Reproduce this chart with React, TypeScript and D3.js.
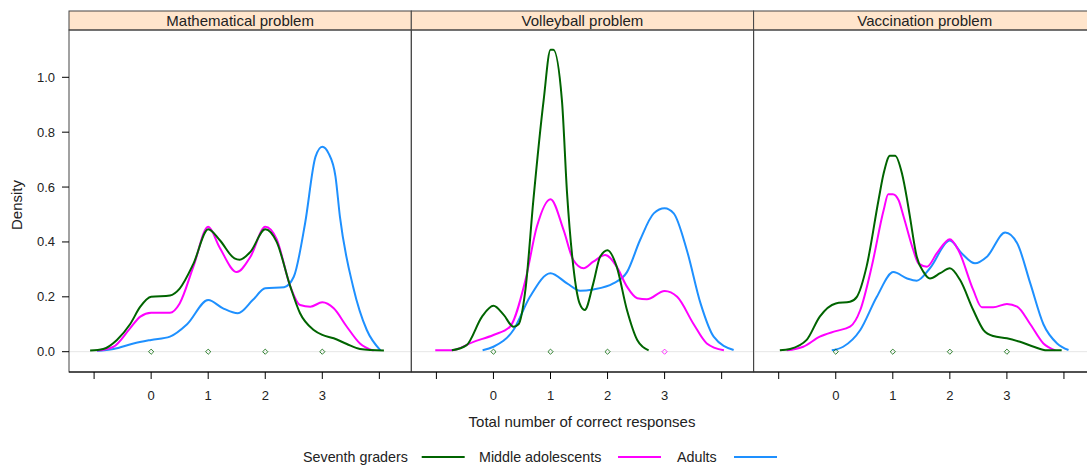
import React from "react";
import * as d3 from "d3";

// Density estimates of the total number of correct responses, per problem and age group.
const panels = ["Mathematical problem", "Volleyball problem", "Vaccination problem"];
const groups = ["Seventh graders", "Middle adolescents", "Adults"];
const groupColors = ["#006400", "#ff00ff", "#1e90ff"];

const xTicks = [-1, 0, 1, 2, 3, 4];
const xTickLabels = ["", "0", "1", "2", "3", ""];
const yTicks = [0, 0.2, 0.4, 0.6, 0.8, 1.0];

// Mathematical problem
const mathSeventh: [number, number][] = [
  [-1.07, 0.004], [-0.84, 0.01], [-0.6, 0.043], [-0.37, 0.1], [-0.19, 0.164], [0, 0.2],
  [0.33, 0.205], [0.5, 0.23], [0.74, 0.32], [1, 0.446], [1.2, 0.407], [1.46, 0.34],
  [1.55, 0.335], [1.74, 0.364], [2, 0.446], [2.2, 0.4], [2.44, 0.237], [2.61, 0.14],
  [2.85, 0.079], [3, 0.061], [3.2, 0.049], [3.43, 0.028], [3.66, 0.01], [4.08, 0.004],
];
const mathMiddle: [number, number][] = [
  [-0.95, 0.004], [-0.66, 0.018], [-0.37, 0.085], [-0.19, 0.128], [0, 0.142], [0.33, 0.142],
  [0.5, 0.176], [0.74, 0.31], [1, 0.455], [1.2, 0.38], [1.5, 0.29], [1.74, 0.346],
  [2, 0.455], [2.2, 0.41], [2.44, 0.237], [2.61, 0.17], [2.79, 0.164], [3, 0.18],
  [3.2, 0.158], [3.43, 0.091], [3.66, 0.03], [3.9, 0.004],
];
const mathAdults: [number, number][] = [
  [-0.95, 0.003], [-0.66, 0.01], [-0.31, 0.03], [0, 0.043], [0.33, 0.055], [0.63, 0.1],
  [1, 0.188], [1.26, 0.158], [1.52, 0.14], [1.78, 0.188], [2, 0.231], [2.33, 0.235],
  [2.5, 0.273], [2.7, 0.47], [2.88, 0.71], [3, 0.747], [3.11, 0.723], [3.23, 0.64],
  [3.31, 0.49], [3.54, 0.237], [3.78, 0.079], [4.02, 0.005],
];

// Volleyball problem
const volleySeventh: [number, number][] = [
  [-0.73, 0.005], [-0.47, 0.024], [-0.2, 0.128], [0, 0.167], [0.18, 0.134], [0.35, 0.091],
  [0.44, 0.1], [0.56, 0.225], [0.7, 0.553], [0.88, 0.917], [1.0, 1.1], [1.05, 1.1],
  [1.2, 0.917], [1.29, 0.578], [1.4, 0.31], [1.51, 0.176], [1.6, 0.152], [1.75, 0.249],
  [1.87, 0.346], [2, 0.37], [2.16, 0.31], [2.34, 0.152], [2.52, 0.043], [2.72, 0.005],
];
const volleyMiddle: [number, number][] = [
  [-1.02, 0.005], [-0.73, 0.005], [-0.35, 0.036], [0, 0.061], [0.29, 0.091], [0.56, 0.26],
  [0.76, 0.455], [1.0, 0.556], [1.23, 0.443], [1.4, 0.334], [1.58, 0.304], [1.75, 0.328],
  [1.96, 0.352], [2.16, 0.31], [2.34, 0.237], [2.52, 0.195], [2.69, 0.191], [3, 0.221],
  [3.22, 0.2], [3.51, 0.1], [3.74, 0.03], [4.04, 0.005],
];
const volleyAdults: [number, number][] = [
  [-0.19, 0.005], [0, 0.018], [0.35, 0.079], [0.64, 0.2], [1, 0.286], [1.29, 0.249],
  [1.52, 0.222], [1.75, 0.227], [2.1, 0.249], [2.34, 0.29], [2.57, 0.407], [2.81, 0.504],
  [3, 0.523], [3.16, 0.504], [3.39, 0.37], [3.63, 0.176], [3.86, 0.055], [4.21, 0.006],
];

// Vaccination problem
const vaccSeventh: [number, number][] = [
  [-0.98, 0.005], [-0.8, 0.01], [-0.51, 0.043], [-0.28, 0.128], [0, 0.176], [0.25, 0.182],
  [0.37, 0.2], [0.54, 0.31], [0.75, 0.553], [0.84, 0.65], [0.95, 0.714], [1.04, 0.714],
  [1.16, 0.65], [1.25, 0.555], [1.3, 0.492], [1.42, 0.346], [1.54, 0.29], [1.65, 0.267],
  [1.83, 0.286], [2, 0.304], [2.18, 0.261], [2.41, 0.152], [2.59, 0.079], [2.76, 0.057],
  [3, 0.049], [3.23, 0.036], [3.47, 0.018], [3.7, 0.005], [3.96, 0.005],
];
const vaccMiddle: [number, number][] = [
  [-0.86, 0.005], [-0.57, 0.018], [-0.28, 0.055], [0, 0.075], [0.25, 0.091], [0.43, 0.152],
  [0.63, 0.31], [0.84, 0.516], [0.92, 0.574], [1.0, 0.574], [1.1, 0.553], [1.19, 0.492],
  [1.36, 0.37], [1.45, 0.322], [1.6, 0.31], [1.77, 0.358], [2, 0.41], [2.15, 0.37],
  [2.41, 0.225], [2.56, 0.162], [2.76, 0.162], [3, 0.174], [3.18, 0.164], [3.41, 0.1],
  [3.64, 0.03], [3.85, 0.005],
];
const vaccAdults: [number, number][] = [
  [-0.07, 0.005], [0.13, 0.018], [0.43, 0.079], [0.72, 0.2], [1.01, 0.29], [1.25, 0.267],
  [1.42, 0.259], [1.65, 0.304], [2, 0.405], [2.21, 0.358], [2.44, 0.322], [2.65, 0.346],
  [2.97, 0.434], [3.18, 0.395], [3.41, 0.249], [3.64, 0.1], [3.88, 0.03], [4.08, 0.006],
];

// Response values shown along the zero line; the top-most group's symbol is visible
const mathObserved = [[0, 1, 2, 3], [], []];
const volleyObserved = [[0, 1, 2], [3], []];
const vaccObserved = [[0, 1, 2, 3], [], []];

const curves = [
  [mathSeventh, mathMiddle, mathAdults],
  [volleySeventh, volleyMiddle, volleyAdults],
  [vaccSeventh, vaccMiddle, vaccAdults],
];
const observed = [mathObserved, volleyObserved, vaccObserved];

const W = 1087;
const H = 465;
const FONT = "'Liberation Sans', Arial, Helvetica, sans-serif";
const TEXT = "#222";
const BORDER = "#444";

const panelLeft = 69;
const panelWidth = 342.3;
const stripTop = 11;
const panelTop = 30;
const panelBottom = 372;

const y = d3.scaleLinear().domain([-0.074, 1.1724]).range([panelBottom, panelTop]);

const diamond = (cx: number, cy: number, r: number) =>
  `M${cx},${cy - r}L${cx + r},${cy}L${cx},${cy + r}L${cx - r},${cy}Z`;

export default function App() {
  const drawOrder = [2, 1, 0];
  return (
    <div style={{ position: "fixed", left: 0, top: 0, width: W, height: H, background: "#fff" }}>
      <svg width={W} height={H} style={{ display: "block" }} fontFamily={FONT}>
        <defs>
          {panels.map((_, i) => (
            <clipPath id={`clip-${i}`} key={i}>
              <rect x={panelLeft + i * panelWidth} y={panelTop} width={panelWidth} height={panelBottom - panelTop} />
            </clipPath>
          ))}
        </defs>
        {panels.map((name, i) => {
          const left = panelLeft + i * panelWidth;
          const x = d3.scaleLinear().domain([-1.44, 4.56]).range([left, left + panelWidth]);
          const line = d3
            .line<[number, number]>()
            .x((d) => x(d[0]))
            .y((d) => y(d[1]))
            .curve(d3.curveMonotoneX);
          return (
            <g key={name}>
              {/* strip */}
              <rect x={left} y={stripTop} width={panelWidth} height={panelTop - stripTop} fill="#ffe5cc" stroke={BORDER} strokeWidth={1} />
              <text x={left + panelWidth / 2} y={panelTop - 4.5} textAnchor="middle" fontSize={15} fill={TEXT}>
                {name}
              </text>
              {/* zero reference line */}
              <line x1={left} x2={left + panelWidth} y1={y(0)} y2={y(0)} stroke="#e6e6e6" strokeWidth={1} />
              <g clipPath={`url(#clip-${i})`}>
                {drawOrder.map((g) => (
                  <g key={g}>
                    <path d={line(curves[i][g]) || ""} fill="none" stroke={groupColors[g]} strokeWidth={2} strokeLinejoin="round" />
                  </g>
                ))}
                {drawOrder.map((g) =>
                  observed[i][g].map((v) => (
                    <path
                      key={`${g}-${v}`}
                      d={diamond(x(v), y(0), 2.6)}
                      fill="none"
                      stroke={groupColors[g]}
                      strokeOpacity={0.8}
                      strokeWidth={1}
                    />
                  ))
                )}
              </g>
              {/* panel box */}
              <rect x={left} y={panelTop} width={panelWidth} height={panelBottom - panelTop} fill="none" stroke={BORDER} strokeWidth={1} />
              <line x1={left} x2={left + panelWidth} y1={panelBottom} y2={panelBottom} stroke="#000" strokeWidth={1.2} />
              {/* x ticks */}
              {xTicks.map((t, k) => (
                <g key={t}>
                  <line x1={x(t)} x2={x(t)} y1={panelBottom} y2={panelBottom + 7} stroke="#000" strokeWidth={1} />
                  {xTickLabels[k] && (
                    <text x={x(t)} y={400} textAnchor="middle" fontSize={13} fill={TEXT}>
                      {xTickLabels[k]}
                    </text>
                  )}
                </g>
              ))}
            </g>
          );
        })}
        {/* y axis on the first panel */}
        {yTicks.map((t) => (
          <g key={t}>
            <line x1={panelLeft - 7} x2={panelLeft} y1={y(t)} y2={y(t)} stroke="#000" strokeWidth={1} />
            <text x={55} y={y(t) + 4.5} textAnchor="end" fontSize={13} fill={TEXT}>
              {t.toFixed(1)}
            </text>
          </g>
        ))}
        <text transform={`translate(22,205) rotate(-90)`} textAnchor="middle" fontSize={15} fill={TEXT}>
          Density
        </text>
        <text x={582} y={427} textAnchor="middle" fontSize={15} fill={TEXT}>
          Total number of correct responses
        </text>
        {/* legend */}
        {(() => {
          const textStarts = [303, 479, 677];
          const lineStarts = [421.7, 618, 734];
          return groups.map((g, k) => (
            <g key={g}>
              <text x={textStarts[k]} y={462} fontSize={14.3} fill={TEXT}>
                {g}
              </text>
              <line x1={lineStarts[k]} x2={lineStarts[k] + 43} y1={457} y2={457} stroke={groupColors[k]} strokeWidth={2} />
            </g>
          ));
        })()}
      </svg>
    </div>
  );
}
